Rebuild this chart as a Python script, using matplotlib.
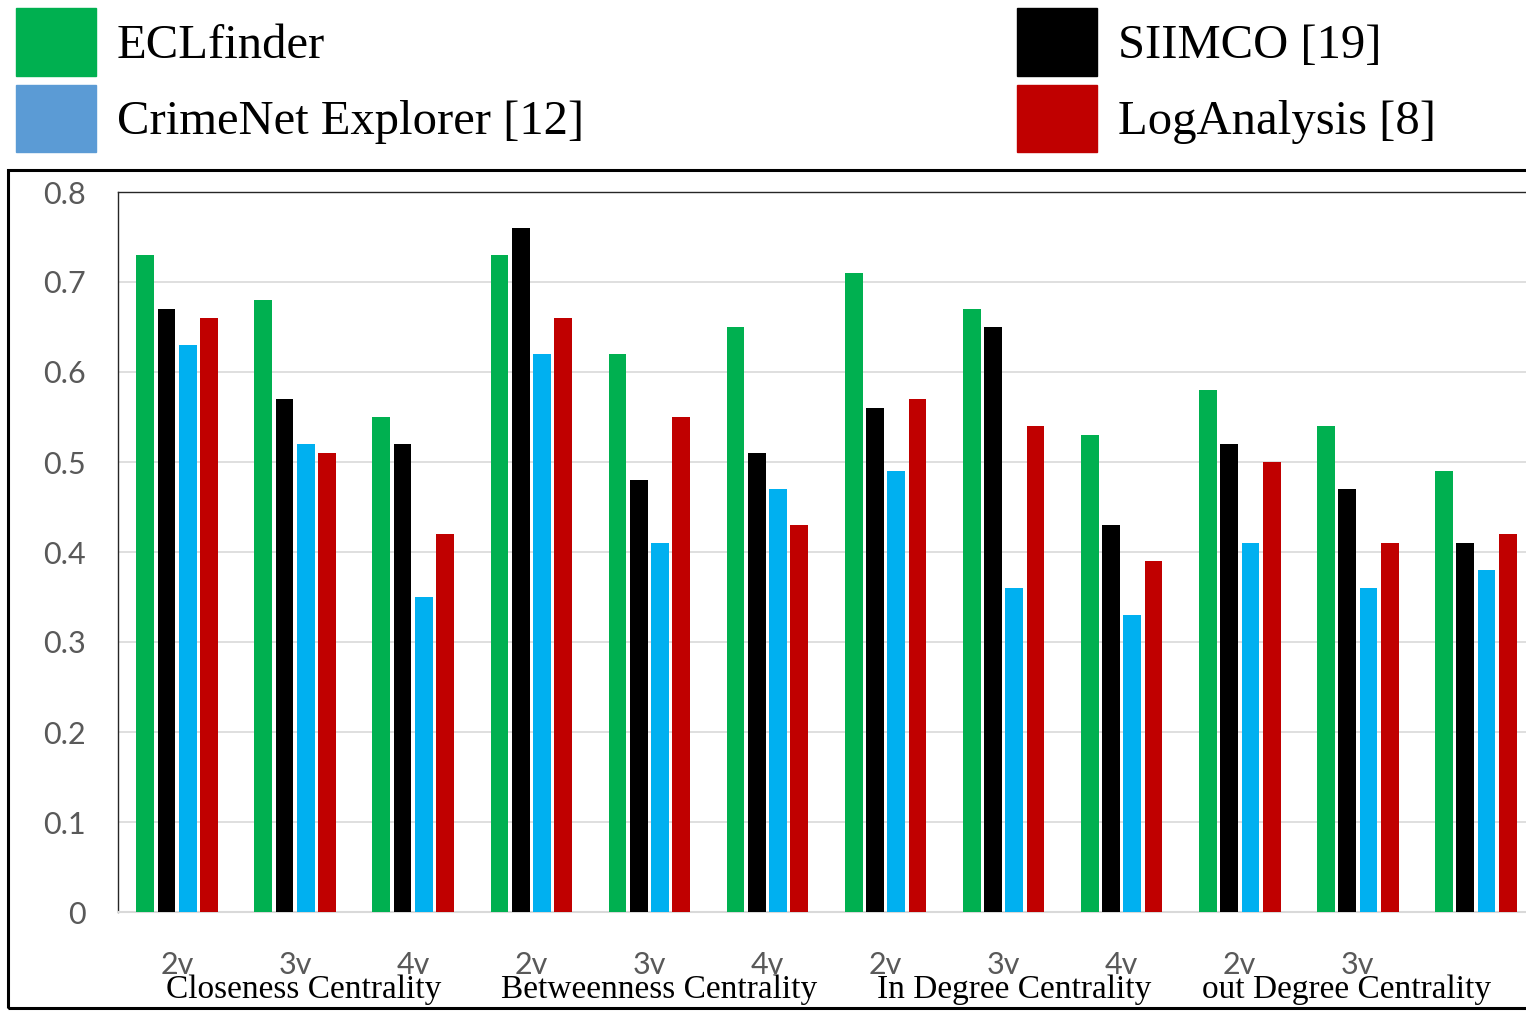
import matplotlib
matplotlib.use('Agg')
import matplotlib.pyplot as plt
import matplotlib.patches as mpatches
import matplotlib.transforms as mtransforms
import numpy as np

# DATA
tick_labels = ['2v', '3v', '4v', '2v', '3v', '4v', '2v', '3v', '4v', '2v', '3v', '']
measures = ['Closeness Centrality', 'Betweenness Centrality',
            'In Degree Centrality', 'out Degree Centrality']
measure_groups = [1, 4, 7, 10]   # middle group under each measure

eclfinder   = [0.73, 0.68, 0.55, 0.73, 0.62, 0.65, 0.71, 0.67, 0.53, 0.58, 0.54, 0.49]
siimco      = [0.67, 0.57, 0.52, 0.76, 0.48, 0.51, 0.56, 0.65, 0.43, 0.52, 0.47, 0.41]
crimenet    = [0.63, 0.52, 0.35, 0.62, 0.41, 0.47, 0.49, 0.36, 0.33, 0.41, 0.36, 0.38]
loganalysis = [0.66, 0.51, 0.42, 0.66, 0.55, 0.43, 0.57, 0.54, 0.39, 0.50, 0.41, 0.42]

# STYLE
W, H, DPI = 1526, 1011, 100
serif = ['Liberation Serif', 'DejaVu Serif']
sans = ['Lato', 'DejaVu Sans']
tick_gray = '#595959'
grid_gray = '#d9d9d9'
label_shift_px = [9, 10, 11, -11]   # small nudges of the measure labels

fig = plt.figure(figsize=(W / DPI, H / DPI), dpi=DPI)

def px_box(x0, y0, x1, y1):
    '''pixel box (top-left origin) -> figure fraction [l, b, w, h]'''
    return [x0 / W, 1 - y1 / H, (x1 - x0) / W, (y1 - y0) / H]

ax = fig.add_axes(px_box(118, 192, 1535, 912))

x = np.arange(len(tick_labels))
bw = 0.15
step = 0.18
series = [
    (eclfinder, '#00B050'),
    (siimco, '#000000'),
    (crimenet, '#00B0F0'),
    (loganalysis, '#C00000'),
]
for i, (vals, col) in enumerate(series):
    ax.bar(x + (i - 1.5) * step, vals, width=bw, color=col, linewidth=0, zorder=3)

# AXES
ax.set_xlim(-0.5, 11.5)
ax.set_ylim(0, 0.8)
ax.set_yticks(np.arange(0, 0.81, 0.1))
ax.set_yticklabels(['0', '0.1', '0.2', '0.3', '0.4', '0.5', '0.6', '0.7', '0.8'])
ax.set_xticks(x)
ax.set_xticklabels(tick_labels)
ax.yaxis.grid(True, color=grid_gray, linewidth=1.2, zorder=0)
ax.tick_params(axis='both', length=0, labelcolor=tick_gray, labelsize=22)
ax.tick_params(axis='y', pad=23)
ax.tick_params(axis='x', pad=28)
for lab in ax.get_xticklabels() + ax.get_yticklabels():
    lab.set_family(sans)
for side in ['left', 'top']:
    ax.spines[side].set_color('#262626')
    ax.spines[side].set_linewidth(1.0)
ax.spines['bottom'].set_color(grid_gray)
ax.spines['bottom'].set_linewidth(1.5)
ax.spines['right'].set_visible(False)

# CATEGORY LABELS
trans = mtransforms.blended_transform_factory(ax.transData, fig.transFigure)
for m, c, dx in zip(measures, measure_groups, label_shift_px):
    t = trans + mtransforms.ScaledTranslation(dx / DPI, 0, fig.dpi_scale_trans)
    ax.text(c, 1 - 998 / H, m, transform=t, ha='center', va='baseline',
            family=serif, fontsize=24, color='black', clip_on=False)

# OUTER BOX
fig.patches.append(mpatches.Rectangle((8 / W, 1 - 1008 / H), 1.1, (1008 - 170) / H,
                                      transform=fig.transFigure, fill=False,
                                      edgecolor='black', linewidth=2.2))

# LEGEND
leg_kw = dict(frameon=False, prop={'family': serif, 'size': 35}, handlelength=1.65,
              handleheight=1.77, handletextpad=0.42, labelspacing=0.18,
              borderpad=0, borderaxespad=0, loc='upper left')
h1 = [mpatches.Patch(color='#00B050', label='ECLfinder'),
      mpatches.Patch(color='#5B9BD5', label='CrimeNet Explorer [12]')]
h2 = [mpatches.Patch(color='#000000', label='SIIMCO [19]'),
      mpatches.Patch(color='#C00000', label='LogAnalysis [8]')]
fig.legend(handles=h1, bbox_to_anchor=(16 / W, 1 - 8 / H), **leg_kw)
fig.legend(handles=h2, bbox_to_anchor=(1017 / W, 1 - 8 / H), **leg_kw)

plt.savefig('out.png', dpi=DPI)
plt.close()
